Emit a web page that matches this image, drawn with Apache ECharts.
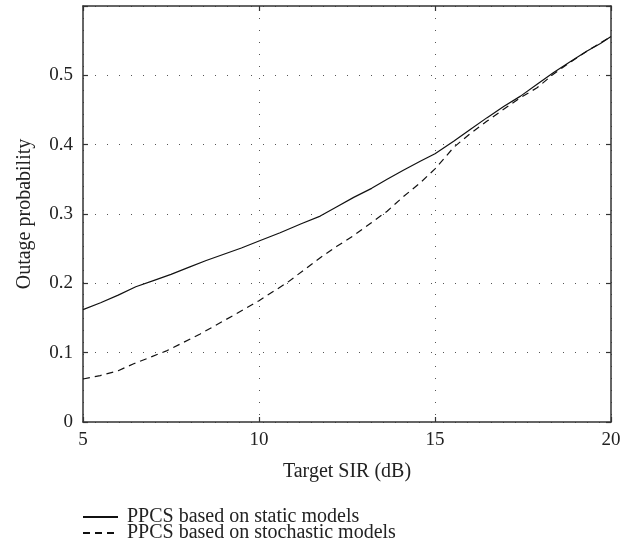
<!DOCTYPE html>
<html><head><meta charset="utf-8">
<script src="https://cdn.jsdelivr.net/npm/echarts@6/dist/echarts.min.js"></script>
<style>html,body{margin:0;padding:0;background:#fff}#c{width:638px;height:554px}</style>
</head><body><div id="c"></div>
<script>
const xStatic = [5, 5.5, 6, 6.5, 7, 7.5, 8, 8.5, 9, 9.5, 10, 10.6, 11.2, 11.74, 12.2, 12.69, 13.2, 13.64, 14.1, 14.58, 15, 15.53, 16, 16.48, 16.95, 17.43, 17.9, 18.37, 18.85, 19.32, 19.7, 20];
const yStatic = [0.162, 0.172, 0.183, 0.195, 0.204, 0.213, 0.223, 0.233, 0.242, 0.251, 0.261, 0.273, 0.286, 0.297, 0.310, 0.324, 0.337, 0.350, 0.363, 0.376, 0.387, 0.405, 0.422, 0.439, 0.455, 0.470, 0.487, 0.504, 0.520, 0.535, 0.546, 0.556];
const xStoch = [5, 5.49, 6.0, 6.44, 7.39, 8.33, 9.28, 10, 10.8, 11.74, 12.2, 12.69, 13.64, 14.1, 14.58, 15, 15.53, 16, 16.48, 16.95, 17.43, 17.9, 18.37, 18.85, 19.32, 20];
const yStoch = [0.062, 0.067, 0.074, 0.084, 0.103, 0.127, 0.154, 0.175, 0.201, 0.237, 0.253, 0.269, 0.304, 0.325, 0.345, 0.365, 0.396, 0.416, 0.434, 0.451, 0.468, 0.482, 0.502, 0.519, 0.535, 0.556];
const seriesNames = ["PPCS based on static models", "PPCS based on stochastic models"];
const xTicks = [5, 10, 15, 20];
const yTicks = [0, 0.1, 0.2, 0.3, 0.4, 0.5];

const FONT = "Liberation Serif";
const chart = echarts.init(document.getElementById('c'), null, {renderer: 'canvas'});
const axisLine = {show: true, onZero: false, lineStyle: {color: '#333', width: 1.5}};
const tick = {inside: true, length: 5, lineStyle: {color: '#333', width: 1.2}};
const dotted = {show: true, lineStyle: {color: '#555', type: [1, 11], width: 1}};
chart.setOption({
  animation: false,
  textStyle: {fontFamily: FONT},
  grid: {left: 83, right: 27, top: 6, bottom: 132},
  xAxis: [{
    type: 'value', min: 5, max: 20, interval: 5,
    name: 'Target SIR (dB)', nameLocation: 'middle', nameGap: 40,
    nameTextStyle: {fontFamily: FONT, fontSize: 20, color: '#222'},
    axisLine: axisLine, axisTick: tick,
    axisLabel: {fontFamily: FONT, fontSize: 19, color: '#222', margin: 9,
      formatter: v => (xTicks.includes(v) ? String(v) : '')},
    splitLine: dotted
  }, {
    type: 'value', min: 5, max: 20, interval: 5, position: 'top',
    axisLine: axisLine, axisTick: tick,
    axisLabel: {show: false}, splitLine: {show: false}
  }],
  yAxis: [{
    type: 'value', min: 0, max: 0.6, interval: 0.1,
    name: 'Outage probability', nameLocation: 'middle', nameGap: 48,
    nameTextStyle: {fontFamily: FONT, fontSize: 20, color: '#222'},
    axisLine: axisLine, axisTick: tick,
    axisLabel: {fontFamily: FONT, fontSize: 19, color: '#222', margin: 10,
      formatter: v => (yTicks.some(t => Math.abs(t - v) < 1e-9) ? (Math.round(v * 10) / 10).toString() : '')},
    splitLine: dotted
  }, {
    type: 'value', min: 0, max: 0.6, interval: 0.1, position: 'right',
    axisLine: axisLine, axisTick: tick,
    axisLabel: {show: false}, splitLine: {show: false}
  }],
  legend: {
    orient: 'vertical', left: 82, top: 507, itemGap: -4, padding: 0,
    itemWidth: 35, itemHeight: 10,
    itemStyle: {opacity: 0},
    textStyle: {fontFamily: FONT, fontSize: 20, color: '#222', lineHeight: 16, padding: [0, 0, 0, 4]},
    data: seriesNames
  },
  series: [{
    name: seriesNames[0], type: 'line', showSymbol: false, symbol: 'none',
    data: xStatic.map((x, i) => [x, yStatic[i]]),
    lineStyle: {color: '#111', width: 1.2}, itemStyle: {color: '#111'}
  }, {
    name: seriesNames[1], type: 'line', showSymbol: false, symbol: 'none',
    data: xStoch.map((x, i) => [x, yStoch[i]]),
    lineStyle: {color: '#111', width: 1.2, type: [7, 5]}, itemStyle: {color: '#111'}
  }]
});
</script></body></html>
